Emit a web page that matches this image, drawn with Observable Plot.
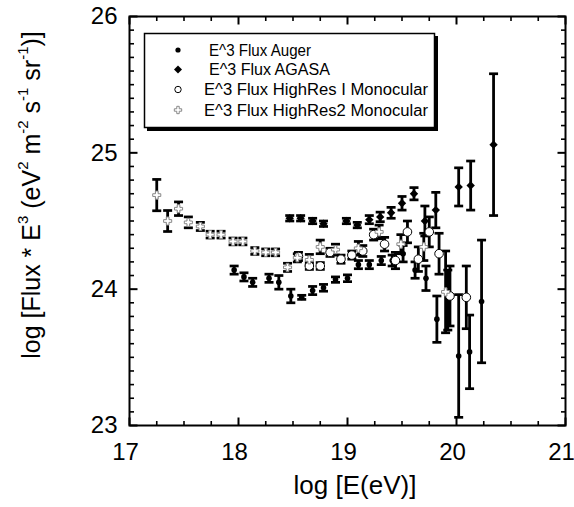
<!DOCTYPE html>
<html><head><meta charset="utf-8">
<script src="https://cdn.jsdelivr.net/npm/d3@7"></script>
<script src="https://cdn.jsdelivr.net/npm/@observablehq/plot@0.6"></script>
<style>body{margin:0;background:#fff;}</style>
</head><body><div id="chart"></div>
<script>
// ---- data (log E, log flux*E^3, error) ----
const augerE   = [17.96,18.05,18.13,18.28,18.37,18.48,18.58,18.68,18.78,18.89,19.00,19.10,19.20,19.31,19.41,19.51,19.62,19.72,19.82,19.92,20.02,20.12,20.23];
const augerV   = [24.14,24.09,24.05,24.08,24.05,23.95,23.94,23.99,24.01,24.07,24.08,24.18,24.18,24.21,24.21,24.26,24.14,24.08,23.78,23.92,23.51,23.54,23.91];
const augerErr = [0.03,0.03,0.03,0.03,0.05,0.05,0.015,0.03,0.025,0.02,0.025,0.03,0.03,0.03,0.04,0.06,0.06,0.09,0.17,0.22,0.45,0.27,0.45];

const agasaE   = [18.47,18.57,18.68,18.78,18.99,19.09,19.20,19.30,19.40,19.50,19.61,19.71,19.81,20.02,20.13,20.34];
const agasaV   = [24.52,24.52,24.50,24.48,24.50,24.47,24.51,24.53,24.56,24.63,24.70,24.50,24.58,24.75,24.76,25.06];
const agasaErr = [0.02,0.02,0.02,0.02,0.02,0.02,0.03,0.035,0.04,0.05,0.045,0.11,0.13,0.14,0.18,0.52];

const hires1E   = [18.55,18.65,18.75,18.84,18.94,19.04,19.14,19.24,19.34,19.44,19.55,19.65,19.75,19.84,19.94,20.09];
const hires1V   = [24.24,24.17,24.17,24.27,24.22,24.25,24.28,24.40,24.33,24.21,24.42,24.22,24.42,24.26,23.95,23.94];
const hires1Err = [0.03,0.025,0.025,0.03,0.03,0.03,0.04,0.04,0.05,0.06,0.08,0.09,0.11,0.15,0.22,0.23];

const hires2E   = [17.25,17.35,17.45,17.54,17.65,17.74,17.84,17.95,18.04,18.15,18.25,18.34,18.45,18.54,18.65,18.75,18.89,19.10,19.29,19.49,19.70,19.90];
const hires2V   = [24.69,24.50,24.59,24.49,24.46,24.40,24.40,24.35,24.35,24.28,24.27,24.27,24.16,24.23,24.215,24.31,24.29,24.30,24.42,24.33,24.31,23.98];
const hires2Err = [0.115,0.077,0.05,0.04,0.03,0.025,0.025,0.025,0.025,0.025,0.025,0.025,0.03,0.03,0.04,0.05,0.04,0.05,0.05,0.07,0.10,0.30];

const seriesNames = ["E^3 Flux Auger","E^3 Flux AGASA","E^3 Flux HighRes I Monocular","E^3 Flux HighRes2 Monocular"];
const xTickValues = [17,18,19,20,21];
const yTickValues = [23,24,25,26];
const xLabel = "log [E(eV)]";

const rows = (E, V, Err) => E.map((e, i) => ({E: e, v: V[i], lo: V[i] - Err[i], hi: V[i] + Err[i]}));
const auger = rows(augerE, augerV, augerErr);
const agasa = rows(agasaE, agasaV, agasaErr);
const hires1 = rows(hires1E, hires1V, hires1Err);
const hires2 = rows(hires2E, hires2V, hires2Err);
const all = [...auger, ...agasa, ...hires1, ...hires2];

const xMinor = d3.range(1, 16).map(k => 17 + k/4).filter(t => !Number.isInteger(t));
const yMinor = d3.range(1, 30).map(k => 23 + k/10).filter(t => Math.abs(t - Math.round(t)) > 1e-6);

const capSymbol = {draw(ctx){ ctx.moveTo(-4.5, 0); ctx.lineTo(4.5, 0); }};
const diamondSymbol = {draw(ctx){ ctx.moveTo(0,-4.2); ctx.lineTo(4.2,0); ctx.lineTo(0,4.2); ctx.lineTo(-4.2,0); ctx.closePath(); }};
// inward tick shapes
const tick = (dx, dy) => ({draw(ctx){ ctx.moveTo(0,0); ctx.lineTo(dx, dy); }});

const FONT = "'Liberation Sans', Arial, sans-serif";

const tickMarks = [];
const MAJ = 8, MIN = 4.5;
tickMarks.push(Plot.dot(xTickValues, {x: d => d, frameAnchor: "bottom", symbol: tick(0, -MAJ), stroke: "black", strokeWidth: 2}));
tickMarks.push(Plot.dot(xMinor, {x: d => d, frameAnchor: "bottom", symbol: tick(0, -MIN), stroke: "black", strokeWidth: 1.6}));
tickMarks.push(Plot.dot(xTickValues, {x: d => d, frameAnchor: "top", symbol: tick(0, MAJ), stroke: "black", strokeWidth: 2}));
tickMarks.push(Plot.dot(xMinor, {x: d => d, frameAnchor: "top", symbol: tick(0, MIN), stroke: "black", strokeWidth: 1.6}));
tickMarks.push(Plot.dot(yTickValues, {y: d => d, frameAnchor: "left", symbol: tick(MAJ, 0), stroke: "black", strokeWidth: 2}));
tickMarks.push(Plot.dot(yMinor, {y: d => d, frameAnchor: "left", symbol: tick(MIN, 0), stroke: "black", strokeWidth: 1.6}));
tickMarks.push(Plot.dot(yTickValues, {y: d => d, frameAnchor: "right", symbol: tick(-MAJ, 0), stroke: "black", strokeWidth: 2}));
tickMarks.push(Plot.dot(yMinor, {y: d => d, frameAnchor: "right", symbol: tick(-MIN, 0), stroke: "black", strokeWidth: 1.6}));

const plot = Plot.plot({
  width: 574, height: 507,
  marginTop: 16, marginRight: 9, marginBottom: 82, marginLeft: 129,
  style: {fontFamily: FONT, color: "black", background: "white"},
  x: {domain: [17, 21], label: null},
  y: {domain: [23, 26], label: null},
  marks: [
    Plot.axisX({ticks: xTickValues, tickSize: 0, tickPadding: 17, dx: -4, fontSize: 24, label: null, tickFormat: d => String(d)}),
    Plot.axisY({ticks: yTickValues, tickSize: 0, tickPadding: 12, fontSize: 24, label: null, tickFormat: d => String(d)}),
    ...tickMarks,
    Plot.ruleX(all, {x: "E", y1: "lo", y2: "hi", stroke: "black", strokeWidth: 2.8}),
    Plot.dot(all, {x: "E", y: "lo", symbol: capSymbol, stroke: "black", strokeWidth: 2.7, fill: "none"}),
    Plot.dot(all, {x: "E", y: "hi", symbol: capSymbol, stroke: "black", strokeWidth: 2.7, fill: "none"}),
    Plot.dot(auger, {x: "E", y: "v", r: 2.8, fill: "black", stroke: "none"}),
    Plot.dot(agasa, {x: "E", y: "v", symbol: diamondSymbol, fill: "black", stroke: "none"}),
    Plot.dot(hires1, {x: "E", y: "v", r: 4.3, fill: "white", stroke: "black", strokeWidth: 1}),
    Plot.dot(hires2, {x: "E", y: "v", symbol: "cross", r: 3.4, fill: "white", stroke: "#888", strokeWidth: 1}),
    Plot.frame({stroke: "black", strokeWidth: 2})
  ]
});
document.getElementById("chart").appendChild(plot);

// ---- labels & legend ----
const svg = d3.select(plot);
svg.append("text").attr("x", 355).attr("y", 494).attr("text-anchor", "middle")
  .attr("font-family", FONT).attr("font-size", 26).attr("fill", "black").text(xLabel);

const yl = svg.append("text").attr("transform", "translate(40,195) rotate(-90)")
  .attr("text-anchor", "middle").attr("font-family", FONT).attr("font-size", 25).attr("fill", "black");
const parts = [["log [Flux * E",0],["3",1],[" (eV",0],["2",1],[" m",0],["-2",1],[" s",0],["-1",1],[" sr",0],["-1",1],[")]",0]];
let prevSup = 0;
for (const [t, sup] of parts) {
  const ts = yl.append("tspan").text(t);
  if (sup) ts.attr("font-size", 15);
  const dy = (sup ? -12 : 0) - (prevSup ? -12 : 0);
  if (dy) ts.attr("dy", dy);
  prevSup = sup;
}

const lg = svg.append("g");
lg.append("rect").attr("x", 147).attr("y", 36).attr("width", 291).attr("height", 95).attr("fill", "black");
lg.append("rect").attr("x", 144.5).attr("y", 33.5).attr("width", 290).attr("height", 94).attr("fill", "white").attr("stroke", "black").attr("stroke-width", 1.5);
const rowsY = [50, 69.5, 89.5, 110];
const textX = [209, 209, 204, 204];
const textLen = [102, 121, 224, 224];
seriesNames.forEach((name, i) => {
  lg.append("text").attr("x", textX[i]).attr("y", rowsY[i]).attr("dy", "0.35em")
    .attr("text-anchor", "start").attr("textLength", textLen[i]).attr("lengthAdjust", "spacingAndGlyphs")
    .attr("font-family", FONT).attr("font-size", 16).attr("fill", "black").text(name);
});
lg.append("circle").attr("cx", 178).attr("cy", rowsY[0]).attr("r", 2.6).attr("fill", "black");
lg.append("path").attr("d", "M178,65.5L182,69.5L178,73.5L174,69.5Z").attr("fill", "black");
lg.append("circle").attr("cx", 178).attr("cy", rowsY[2]).attr("r", 3.2).attr("fill", "white").attr("stroke", "black").attr("stroke-width", 1);
lg.append("path").attr("d", d3.symbol(d3.symbolCross, 30)()).attr("transform", `translate(178,${rowsY[3]})`).attr("fill", "white").attr("stroke", "#888").attr("stroke-width", 1);
</script>
</body></html>
